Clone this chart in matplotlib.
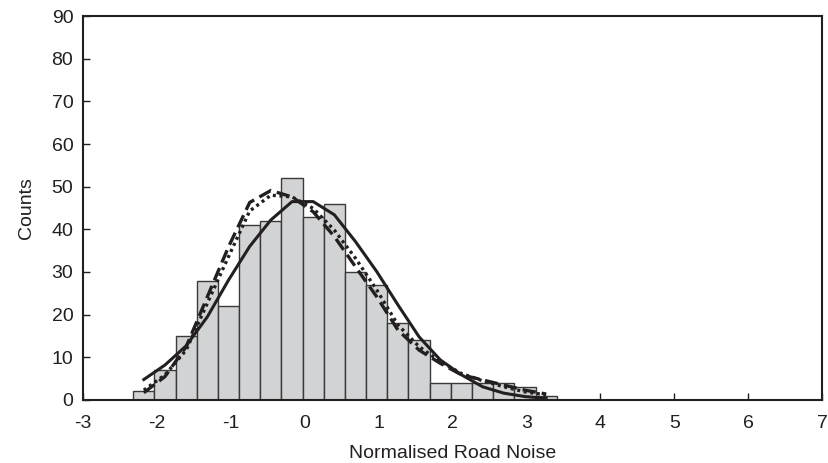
import numpy as np
import matplotlib.pyplot as plt

# histogram: 20 bins of equal width
bin_start = -2.32
bin_width = 0.2865
counts = [2, 7, 15, 28, 22, 41, 42, 52, 43, 46,
          30, 27, 18, 14, 4, 4, 4, 4, 3, 1]

# fitted curves, sampled at the bin centres
fit_solid = [4.8, 8.2, 12.7, 19.5, 28.1, 36.0, 42.2, 46.5, 46.5, 43.4,
             37.1, 30.1, 22.3, 14.8, 9.4, 5.9, 3.1, 1.6, 0.8, 0.4]
fit_dashed = [1.7, 5.5, 12.5, 24.2, 35.9, 46.3, 49.1, 47.6, 44.1, 38.3,
              31.2, 24.2, 16.4, 11.7, 8.6, 5.9, 4.7, 3.5, 2.3, 1.4]
fit_dotted = [2.3, 5.9, 11.7, 22.7, 33.6, 44.3, 48.0, 47.6, 44.9, 39.8,
              33.2, 25.8, 17.6, 12.5, 9.0, 6.2, 4.5, 3.1, 1.9, 1.2]

plt.rcParams['font.family'] = ['Liberation Sans', 'DejaVu Sans']
plt.rcParams['axes.unicode_minus'] = False

edges = bin_start + bin_width * np.arange(len(counts) + 1)
centres = (edges[:-1] + edges[1:]) / 2

fig = plt.figure(figsize=(8.29, 4.63), dpi=100)
ax = fig.add_axes([0.1001, 0.1361, 0.8915, 0.8293])

ax.bar(edges[:-1], counts, width=bin_width, align='edge',
       color='#d1d3d4', edgecolor='#3a3a3a', linewidth=1.0, zorder=2)

line_c = '#231f20'
ax.plot(centres, fit_solid, color=line_c, lw=2.2, zorder=3)
ax.plot(centres, fit_dashed, color=line_c, lw=2.4, ls=(0, (4, 1.8)), zorder=3)
ax.plot(centres, fit_dotted, color=line_c, lw=2.4, ls=(0, (0.9, 1.1)), zorder=3)

ax.set_xlim(-3, 7)
ax.set_ylim(0, 90)
ax.set_xticks(range(-3, 8))
ax.set_yticks(range(0, 91, 10))
ax.tick_params(direction='in', length=5, width=1, labelsize=14,
               colors='#231f20', pad=7)
ax.tick_params(axis='x', pad=11)
for s in ax.spines.values():
    s.set_linewidth(1.5)
    s.set_color('#231f20')

ax.set_xlabel('Normalised Road Noise', fontsize=14, color='#231f20', labelpad=9)
ax.set_ylabel('Counts', fontsize=14, color='#231f20', labelpad=12)

fig.savefig('out.png', dpi=100)
